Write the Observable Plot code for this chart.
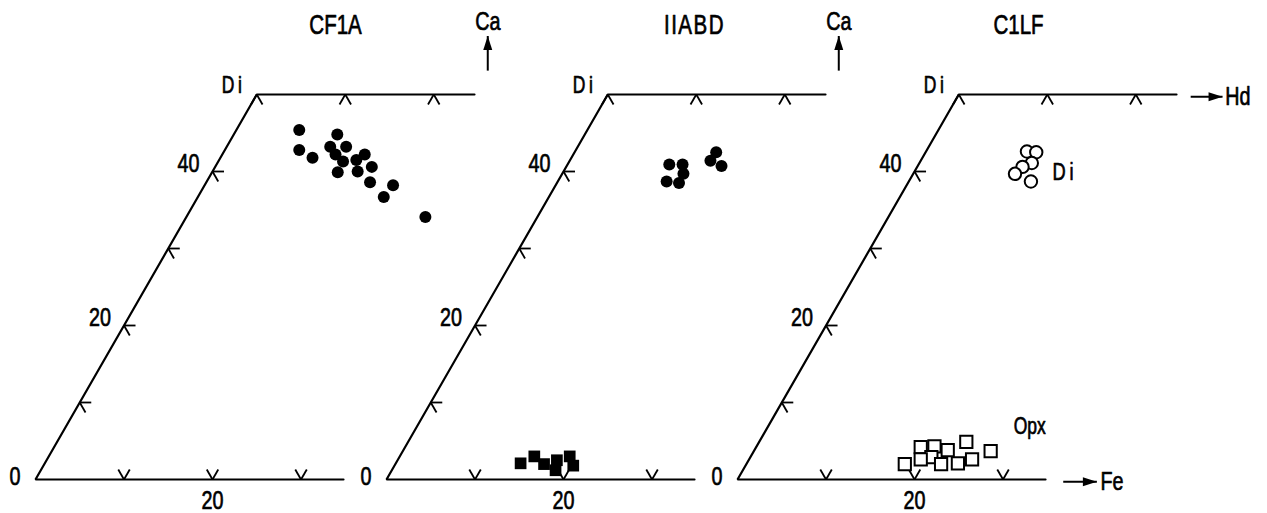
<!DOCTYPE html>
<html><head><meta charset="utf-8">
<script src="https://cdn.jsdelivr.net/npm/d3@7"></script>
<script src="https://cdn.jsdelivr.net/npm/@observablehq/plot@0.6"></script>
<style>body{margin:0;background:#fff} #chart{width:1267px;height:513px}</style>
</head><body><div id="chart"></div>
<script>
// ---- data (Wo = Ca mol%, Fs = Fe mol%) ----
const panels = ["CF1A", "IIABD", "C1LF"];

const cf1aCpxWo = [45.4, 42.8, 41.8, 44.8, 43.2, 43.2, 42.2, 41.3, 41.5, 42.2, 40.6, 39.9, 40.0, 38.6, 38.2, 36.7, 34.1];
const cf1aCpxFs = [7.1, 8.4, 10.4, 11.7, 11.7, 13.5, 12.8, 14.1, 15.5, 16.1, 17.7, 14.2, 16.4, 18.5, 21.3, 21.0, 27.0];

const iiabdCpxWo = [40.9, 40.9, 39.7, 38.7, 38.5, 42.5, 41.4, 40.7];
const iiabdCpxFs = [11.5, 13.0, 13.7, 12.3, 13.8, 16.0, 15.9, 17.5];
const iiabdOpxWo = [2.1, 3.0, 2.0, 2.5, 1.2, 3.0, 1.8];
const iiabdOpxFs = [14.1, 15.2, 16.8, 18.0, 18.5, 19.2, 20.2];

const c1lfCpxWo = [42.6, 42.5, 41.1, 40.6, 39.7, 38.7];
const c1lfCpxFs = [11.4, 12.5, 12.7, 11.9, 11.5, 13.8];
const c1lfOpxWo = [2.0, 4.2, 4.3, 3.8, 4.9, 3.7, 2.9, 2.6, 2.0, 2.1, 2.6];
const c1lfOpxFs = [17.9, 18.6, 20.1, 21.85, 23.4, 26.75, 20.45, 19.4, 22.0, 23.85, 25.2];

// quadrilateral and ticks
const diWo = 50;            // Di corner (Wo50)
const bottomFsEnd = 34.8;   // extent of En-Fs join shown
const topFsEnd = 24.6;      // extent of Di-Hd join shown
const caTicks = [10, 20, 30, 40];
const caTickLabels = [20, 40];
const feTicksBottom = [10, 20, 30];
const feTicksTop = [0, 10, 20];
const feTickLabels = [20];

// ---- layout ----
const STEP = 39.66;                 // panel spacing (units)
const TICK = 1.3;                   // chevron arm length (units)
const titleX = [33.9, 34.8, 31.75];
const FONT = "'Liberation Sans', Arial, sans-serif";
const SQUEEZE = 0.76;               // condensed look of the original lettering

const P = (i, fs, wo) => ({x: i * STEP + fs + wo / 2, y: wo});

const outline = panels.flatMap((name, i) => [
  P(i, bottomFsEnd, 0), P(i, 0, 0), P(i, 0, diWo), P(i, topFsEnd, diWo)
].map(d => ({...d, panel: name})));

const arms = [];
panels.forEach((name, i) => {
  const arm = (a, b) => { const p = P(i, ...a), q = P(i, ...b); arms.push({x1: p.x, y1: p.y, x2: q.x, y2: q.y}); };
  feTicksBottom.forEach(f => { arm([f, 0], [f, TICK]); arm([f, 0], [f - TICK, TICK]); });
  feTicksTop.forEach(f => { arm([f, diWo], [f, diWo - TICK]); arm([f, diWo], [f + TICK, diWo - TICK]); });
  caTicks.forEach(w => { arm([0, w], [TICK, w]); arm([0, w], [TICK, w - TICK]); });
});

const pts = (i, wo, fs) => wo.map((w, k) => P(i, fs[k], w));
const filledCircles = [...pts(0, cf1aCpxWo, cf1aCpxFs), ...pts(1, iiabdCpxWo, iiabdCpxFs)];
const filledSquares = pts(1, iiabdOpxWo, iiabdOpxFs);
const openCircles = pts(2, c1lfCpxWo, c1lfCpxFs);
const openSquares = pts(2, c1lfOpxWo, c1lfOpxFs);

const titles = panels.map((name, i) => ({x: i * STEP + titleX[i], y: 59, text: name}));
const diCorner = panels.map((name, i) => ({...P(i, 0, diWo), text: "Di"}));
const zeroLabels = panels.map((name, i) => ({...P(i, 0, 0), text: "0"}));
const caLabels = panels.flatMap((name, i) => caTickLabels.map(w => ({...P(i, 0, w), text: String(w)})));
const feLabels = panels.flatMap((name, i) => feTickLabels.map(f => ({...P(i, f, 0), text: String(f)})));

// component arrows
const caArrows = [0, 1].map(i => ({x1: i * STEP + 51.1, y1: 53.1, x2: i * STEP + 51.1, y2: 57.6, rot: 0}));
const sideArrows = [
  {x1: 2 * STEP + 51.2, y1: 49.7, x2: 2 * STEP + 54.8, y2: 49.7, rot: 90},
  {x1: 2 * STEP + 36.8, y1: -0.3, x2: 2 * STEP + 40.6, y2: -0.3, rot: 90}
];
const arrows = [...caArrows, ...sideArrows];
const caNames = [0, 1].map(i => ({x: i * STEP + 51.1, y: 59.5, text: "Ca"}));
const endNames = [
  {x: 2 * STEP + 55.1, y: 49.7, text: "Hd"},
  {x: 2 * STEP + 41.0, y: -0.3, text: "Fe"}
];
const diName = [{x: 2 * STEP + 35.6, y: 39.9, text: "Di"}];
const opxName = [{x: 2 * STEP + 31.2, y: 6.9, text: "Opx"}];

const head = {draw(ctx) { ctx.moveTo(0, 0); ctx.lineTo(4.5, 14); ctx.lineTo(-4.5, 14); ctx.closePath(); }};
const T = {fill: "black", stroke: "black", strokeWidth: 0.7};

const chart = Plot.plot({
  width: 1267, height: 513,
  marginLeft: 35, marginRight: 0, marginTop: 94, marginBottom: 34,
  x: {domain: [0, 139.2], axis: null},
  y: {domain: [0, 50], axis: null},
  style: {fontFamily: FONT, background: "white", color: "black", overflow: "visible"},
  marks: [
    Plot.line(outline, {x: "x", y: "y", z: "panel", stroke: "black", strokeWidth: 2.2, strokeLinejoin: "miter"}),
    Plot.link(arms, {x1: "x1", y1: "y1", x2: "x2", y2: "y2", stroke: "black", strokeWidth: 1.8}),
    Plot.dot(filledCircles, {x: "x", y: "y", r: 6, fill: "black"}),
    Plot.dot(filledSquares, {x: "x", y: "y", r: 6.6, symbol: "square", fill: "black"}),
    Plot.dot(openCircles, {x: "x", y: "y", r: 6.2, fill: "white", stroke: "black", strokeWidth: 2}),
    Plot.dot(openSquares, {x: "x", y: "y", r: 6.9, symbol: "square", fill: "white", stroke: "black", strokeWidth: 2}),
    Plot.link(arrows, {x1: "x1", y1: "y1", x2: "x2", y2: "y2", stroke: "black", strokeWidth: 2}),
    Plot.dot(arrows, {x: "x2", y: "y2", symbol: head, rotate: "rot", fill: "black", r: 4}),
    Plot.text(titles, {x: "x", y: "y", text: "text", fontSize: 27, ...T}),
    Plot.text(diCorner, {x: "x", y: "y", text: "text", textAnchor: "end", dx: -11, dy: -9, fontSize: 23, ...T}),
    Plot.text(zeroLabels, {x: "x", y: "y", text: "text", textAnchor: "end", dx: -15, dy: -3, fontSize: 26, ...T}),
    Plot.text(caLabels, {x: "x", y: "y", text: "text", textAnchor: "end", dx: -13, dy: -8, fontSize: 26, ...T}),
    Plot.text(feLabels, {x: "x", y: "y", text: "text", dy: 21, fontSize: 26, ...T}),
    Plot.text(caNames, {x: "x", y: "y", text: "text", fontSize: 26, ...T}),
    Plot.text(endNames, {x: "x", y: "y", text: "text", textAnchor: "start", fontSize: 26, ...T}),
    Plot.text(diName, {x: "x", y: "y", text: "text", textAnchor: "start", fontSize: 24, ...T}),
    Plot.text(opxName, {x: "x", y: "y", text: "text", textAnchor: "start", fontSize: 23, ...T})
  ]
});
document.getElementById("chart").appendChild(chart);
// horizontally condense every label about its own anchor
d3.select(chart).selectAll("text").each(function() {
  const t = this.getAttribute("transform");
  if (t) this.setAttribute("transform", t + ` scale(${SQUEEZE},1)`);
  else {
    const x = +this.getAttribute("x") || 0, y = +this.getAttribute("y") || 0;
    this.removeAttribute("x"); this.removeAttribute("y");
    this.setAttribute("transform", `translate(${x},${y}) scale(${SQUEEZE},1)`);
  }
});
d3.select(chart).selectAll("text").filter(function() { return this.textContent === "Di"; }).attr("letter-spacing", 5);
d3.select(chart).selectAll("text").filter(function() { return this.textContent === "IIABD"; }).attr("letter-spacing", 2);
</script>
</body></html>
